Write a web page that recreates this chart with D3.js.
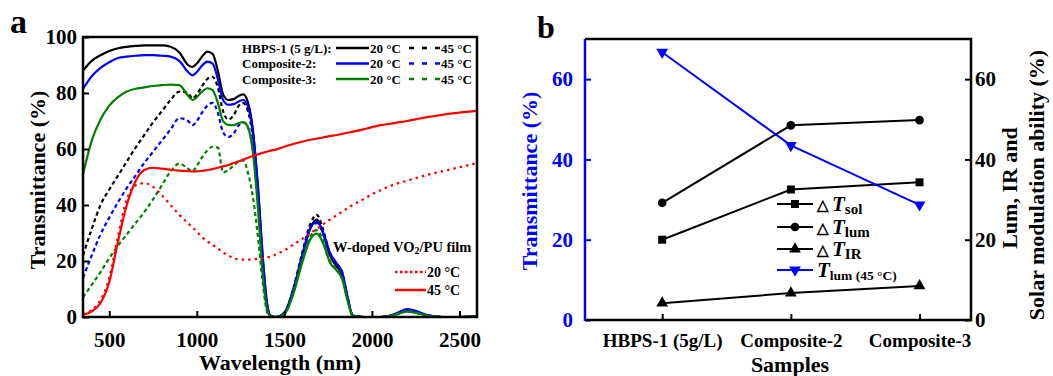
<!DOCTYPE html>
<html>
<head>
<meta charset="utf-8">
<script src="https://cdn.jsdelivr.net/npm/d3@7"></script>
<style>
  body { margin: 0; background: #fff; }
  text { font-family: "Liberation Serif", "Times New Roman", serif; font-weight: bold; }
</style>
</head>
<body>
<svg id="chart" width="1053" height="376"></svg>
<script>
// ---- panel a data: transmittance spectra (%) ----
const wavelength = [350, 400, 450, 500, 550, 600, 650, 700, 750, 800,
  850, 900, 950, 975, 1000, 1030, 1060, 1090, 1120,
  1150, 1180, 1210, 1240, 1265, 1290, 1320, 1350, 1375, 1400, 1420,
  1450, 1500, 1550, 1600, 1650, 1685, 1720, 1760, 1800, 1830, 1860, 1890,
  1950, 2000, 2050, 2100, 2150, 2200, 2250, 2300, 2350, 2400, 2500, 2600];

const hbps20 = [88, 91.5, 93.5, 95, 96, 96.5, 96.8, 97, 97, 97,
  96.5, 94.5, 90, 89.3, 90.5, 93, 94.8, 94, 88,
  79.5, 77.5, 77.8, 79, 79.5, 77, 67, 45, 22, 5, 0.5,
  0, 1.5, 9, 21, 32, 34.8, 30, 22, 18, 15, 7, 0.5,
  0, 0, 0, 0.3, 1.3, 2.3, 1.8, 0.8, 0.2, 0, 0, 0.2];
const hbps45 = [22, 31.5, 40, 45.5, 50.5, 55.5, 60.5, 65, 69.5, 73.5,
  77.5, 80.5, 80, 78, 79.5, 82.5, 85, 85.8, 82,
  73.5, 70.5, 72, 75.5, 76.4, 74, 64, 43, 20, 4, 0.5,
  0, 1.5, 10, 22.5, 33.5, 36.5, 31.5, 22.5, 18, 15, 7, 0.5,
  0, 0, 0, 0.3, 1.2, 2.2, 1.7, 0.7, 0.2, 0, 0, 0.2];
const comp2_20 = [81.5, 86, 89, 91, 92.5, 93, 93.3, 93.5, 93.5, 93.3,
  93, 91.5, 87.5, 86.3, 87.5, 89.8, 91.2, 90.5, 85,
  77.5, 75.8, 76, 77, 77.5, 75.5, 66, 46, 23, 5.5, 0.5,
  0, 1.5, 9.5, 21.5, 32, 34, 30.5, 23, 19, 16, 7.5, 0.5,
  0, 0, 0, 0.4, 1.6, 2.8, 2.2, 1, 0.3, 0, 0, 0.3];
const comp2_45 = [14, 22, 29.5, 35.5, 41, 46, 50.5, 55, 59, 63,
  67, 71, 70, 68.5, 70, 73, 75.5, 76.5, 73,
  66, 64.3, 65.5, 68.5, 69.5, 68, 60, 41, 19, 4, 0.5,
  0, 1.5, 9.5, 21.5, 32, 33.5, 30, 23, 19, 16, 7.5, 0.5,
  0, 0, 0, 0.4, 1.5, 2.6, 2, 0.9, 0.3, 0, 0, 0.3];
const comp3_20 = [51, 63, 70.5, 75.5, 78.5, 80.5, 81.5, 82, 82.5, 82.8,
  83, 82.8, 79, 77.5, 78.5, 80.5, 81.7, 81, 76.5,
  70, 68.6, 68.5, 69.3, 69.6, 68, 59, 38, 16, 3, 0.3,
  0, 1, 8, 19, 28, 29.8, 26.5, 19.5, 16.5, 13.5, 6, 0.5,
  0, 0, 0, 0.3, 1.1, 1.9, 1.5, 0.7, 0.2, 0, 0, 0.2];
const comp3_45 = [7, 11.5, 16, 21, 25.5, 29.5, 33.5, 37.5, 42, 47,
  52, 54.8, 53, 52, 54, 57, 59.5, 60.8, 60.5,
  51.6, 52.5, 54, 55.5, 56, 52, 43, 28, 13, 2, 0,
  0, 1, 8.5, 20, 29, 31, 27.5, 20, 17, 14, 6.5, 0.5,
  0, 0, 0, 0.3, 1.1, 2, 1.6, 0.7, 0.2, 0, 0, 0.2];
const vo2_20 = [1, 2.5, 6, 14, 29, 42, 47, 47.8, 46.5, 43.5,
  40, 36.5, 33.5, 32, 30.5, 28.5, 27, 25.8, 24.5,
  23, 22, 21, 20.6, 20.5, 20.5, 20.6, 20.8, 21, 21.3, 21.5,
  22.3, 23.8, 25.8, 27.8, 30, 31.5, 33, 34.8, 36.4, 37.6, 38.8, 40,
  42, 43.8, 45.3, 46.7, 47.8, 48.7, 49.6, 50.5, 51.3, 52, 53.5, 55];
const vo2_45 = [0.8, 2, 5, 12.5, 27, 40, 48.5, 52.5, 53.3, 53,
  52.6, 52.3, 52.1, 52, 52, 52.2, 52.5, 52.8, 53.3,
  53.8, 54.3, 55, 55.6, 56.2, 56.8, 57.5, 58.1, 58.6, 59, 59.4,
  59.8, 60.8, 61.8, 62.6, 63.3, 63.7, 64.1, 64.6, 65, 65.4, 65.8, 66.2,
  67, 67.8, 68.5, 69, 69.5, 70, 70.6, 71.2, 71.7, 72.2, 73, 73.6];

// ---- panel b data ----
const samples = ["HBPS-1 (5g/L)", "Composite-2", "Composite-3"];
const dTsol = [20, 32.5, 34.3];
const dTlum = [29.2, 48.5, 49.8];
const dTir = [4.2, 6.7, 8.5];
const tLum45 = [66.7, 43.5, 28.7];

const svg = d3.select("#chart");

// ================= panel a =================
const xA = d3.scaleLinear().domain([350, 2600]).range([83, 477]);
const yA = d3.scaleLinear().domain([0, 100]).range([317, 37]);

const spectra = [
  { v: hbps20, color: "#000", dash: null },
  { v: hbps45, color: "#000", dash: "4,3" },
  { v: comp2_20, color: "#0000ff", dash: null },
  { v: comp2_45, color: "#0000ff", dash: "4,3" },
  { v: comp3_20, color: "#008000", dash: null },
  { v: comp3_45, color: "#008000", dash: "4,3" },
  { v: vo2_20, color: "#ff0000", dash: "2.5,4" },
  { v: vo2_45, color: "#ff0000", dash: null }
];

const lineA = d3.line()
  .x(d => xA(d[0]))
  .y(d => yA(d[1]))
  .curve(d3.curveMonotoneX);

const gA = svg.append("g");
gA.selectAll("path.spec")
  .data(spectra)
  .enter()
  .append("path")
  .attr("class", "spec")
  .attr("d", s => lineA(wavelength.map((w, i) => [w, s.v[i]])))
  .attr("fill", "none")
  .attr("stroke", s => s.color)
  .attr("stroke-width", 2.2)
  .attr("stroke-dasharray", s => s.dash);

// axes, ticks pointing inward
const axA_x = gA.append("g")
  .attr("transform", "translate(0,317)")
  .call(d3.axisBottom(xA).tickValues([500, 1000, 1500, 2000, 2500]).tickFormat(d3.format("d"))
    .tickSizeInner(-6).tickSizeOuter(0).tickPadding(15));
const axA_y = gA.append("g")
  .attr("transform", "translate(83,0)")
  .call(d3.axisLeft(yA).tickValues([0, 20, 40, 60, 80, 100])
    .tickSizeInner(-6).tickSizeOuter(0).tickPadding(6));
[axA_x, axA_y].forEach(ax => {
  ax.select(".domain").remove();
  ax.selectAll("line").attr("stroke", "#000").attr("stroke-width", 2);
  ax.selectAll("text").attr("font-size", 21).attr("fill", "#000");
});

gA.append("rect")
  .attr("x", 83).attr("y", 37)
  .attr("width", 394).attr("height", 280)
  .attr("fill", "none").attr("stroke", "#000").attr("stroke-width", 2.5);

gA.append("text").attr("x", 10).attr("y", 33).attr("font-size", 34).text("a");
gA.append("text")
  .attr("transform", "translate(45,180) rotate(-90)")
  .attr("text-anchor", "middle").attr("font-size", 22)
  .text("Transmittance (%)");
gA.append("text")
  .attr("x", 280).attr("y", 370)
  .attr("text-anchor", "middle").attr("font-size", 22)
  .text("Wavelength (nm)");

// legend (top right of panel a)
const legA = [
  { name: "HBPS-1 (5 g/L):", color: "#000" },
  { name: "Composite-2:", color: "#0000ff" },
  { name: "Composite-3:", color: "#008000" }
];
legA.forEach((d, i) => {
  const y = 48 + i * 15.5;
  gA.append("text").attr("x", 242).attr("y", y + 4.5).attr("font-size", 13).text(d.name);
  gA.append("line").attr("x1", 336).attr("x2", 369).attr("y1", y).attr("y2", y)
    .attr("stroke", d.color).attr("stroke-width", 2.5);
  gA.append("text").attr("x", 370).attr("y", y + 4.5).attr("font-size", 13).text("20 °C");
  gA.append("line").attr("x1", 409).attr("x2", 441).attr("y1", y).attr("y2", y)
    .attr("stroke", d.color).attr("stroke-width", 2.5).attr("stroke-dasharray", "5,8");
  gA.append("text").attr("x", 441).attr("y", y + 4.5).attr("font-size", 13).text("45 °C");
});

const filmTitle = gA.append("text").attr("x", 333).attr("y", 252).attr("font-size", 14.5);
filmTitle.append("tspan").text("W-doped VO");
filmTitle.append("tspan").attr("font-size", 10).attr("dy", 2).text("2");
filmTitle.append("tspan").attr("dy", -2).text("/PU film");

[{ label: "20 °C", dash: "2.5,2.5", y: 272 }, { label: "45 °C", dash: null, y: 290 }]
  .forEach(d => {
    gA.append("line").attr("x1", 395).attr("x2", 426).attr("y1", d.y).attr("y2", d.y)
      .attr("stroke", "#ff0000").attr("stroke-width", 2.5).attr("stroke-dasharray", d.dash);
    gA.append("text").attr("x", 427).attr("y", d.y + 5).attr("font-size", 14).text(d.label);
  });

// ================= panel b =================
const xB = d3.scaleLinear().domain([-0.6, 2.4]).range([585, 971]);
const yB = d3.scaleLinear().domain([0, 70]).range([320, 39]);
const gB = svg.append("g");

const axB_x = gB.append("g")
  .attr("transform", "translate(0,320)")
  .call(d3.axisBottom(xB).tickValues([0, 1, 2]).tickFormat(i => samples[i])
    .tickSizeInner(-6).tickSizeOuter(0).tickPadding(14));
const axB_l = gB.append("g")
  .attr("transform", "translate(585,0)")
  .call(d3.axisLeft(yB).tickValues([0, 20, 40, 60])
    .tickSizeInner(-6).tickSizeOuter(0).tickPadding(12));
const axB_r = gB.append("g")
  .attr("transform", "translate(971,0)")
  .call(d3.axisRight(yB).tickValues([0, 20, 40, 60])
    .tickSizeInner(-6).tickSizeOuter(0).tickPadding(4));
[axB_x, axB_l, axB_r].forEach(ax => ax.select(".domain").remove());
axB_x.selectAll("line").attr("stroke", "#000").attr("stroke-width", 2);
axB_x.selectAll("text").attr("font-size", 19).attr("fill", "#000");
axB_l.selectAll("line").attr("stroke", "#0000ff").attr("stroke-width", 2);
axB_l.selectAll("text").attr("font-size", 21).attr("fill", "#0000ff");
axB_r.selectAll("line").attr("stroke", "#000").attr("stroke-width", 2);
axB_r.selectAll("text").attr("font-size", 21).attr("fill", "#000");

// frame: black top, bottom, right; blue left
gB.append("path")
  .attr("d", `M585,39H971V320H585`)
  .attr("fill", "none").attr("stroke", "#000").attr("stroke-width", 2.5);
gB.append("line").attr("x1", 585).attr("x2", 585).attr("y1", 39).attr("y2", 321)
  .attr("stroke", "#0000ff").attr("stroke-width", 2.5);

const seriesB = [
  { v: dTsol, color: "#000", sym: d3.symbolSquare, size: 64, rot: 0 },
  { v: dTlum, color: "#000", sym: d3.symbolCircle, size: 60, rot: 0 },
  { v: dTir, color: "#000", sym: d3.symbolTriangle, size: 60, rot: 0 },
  { v: tLum45, color: "#0000ff", sym: d3.symbolTriangle, size: 60, rot: 180 }
];
const lineB = d3.line().x((d, i) => xB(i)).y(d => yB(d));

seriesB.forEach(s => {
  gB.append("path").attr("d", lineB(s.v))
    .attr("fill", "none").attr("stroke", s.color).attr("stroke-width", 2);
  gB.selectAll(null).data(s.v).enter().append("path")
    .attr("d", d3.symbol().type(s.sym).size(s.size))
    .attr("transform", (d, i) => `translate(${xB(i)},${yB(d)}) rotate(${s.rot})`)
    .attr("fill", s.color);
});

// legend b
const legB = [
  { s: seriesB[0], pre: "△", sub: "sol", y: 204 },
  { s: seriesB[1], pre: "△", sub: "lum", y: 227 },
  { s: seriesB[2], pre: "△", sub: "IR", y: 249 },
  { s: seriesB[3], pre: "", sub: "lum (45 °C)", y: 270 }
];
legB.forEach(d => {
  gB.append("line").attr("x1", 777).attr("x2", 813).attr("y1", d.y).attr("y2", d.y)
    .attr("stroke", d.s.color).attr("stroke-width", 2);
  gB.append("path")
    .attr("d", d3.symbol().type(d.s.sym).size(d.s.size))
    .attr("transform", `translate(795,${d.y}) rotate(${d.s.rot})`)
    .attr("fill", d.s.color);
  if (d.pre) {
    gB.append("text").attr("x", 817).attr("y", d.y + 6)
      .attr("font-size", 15).attr("font-weight", "normal").text(d.pre);
  }
  const t = gB.append("text").attr("x", d.pre ? 832 : 817).attr("y", d.y + 7);
  t.append("tspan").attr("font-size", 21).attr("font-style", "italic").text("T");
  t.append("tspan").attr("font-size", d.pre ? 15 : 13.5).attr("dy", 3).text(d.sub);
});

gB.append("text").attr("x", 537).attr("y", 38).attr("font-size", 32).text("b");
gB.append("text")
  .attr("transform", "translate(537,181) rotate(-90)")
  .attr("text-anchor", "middle").attr("font-size", 22).attr("fill", "#0000ff")
  .text("Transmittance (%)");
gB.append("text")
  .attr("x", 790).attr("y", 372)
  .attr("text-anchor", "middle").attr("font-size", 22)
  .text("Samples");
gB.append("text")
  .attr("transform", "translate(1017,188) rotate(-90)")
  .attr("text-anchor", "middle").attr("font-size", 22)
  .text("Lum, IR and");
gB.append("text")
  .attr("transform", "translate(1044,185) rotate(-90)")
  .attr("text-anchor", "middle").attr("font-size", 22)
  .text("Solar modulation ability (%)");
</script>
</body>
</html>
